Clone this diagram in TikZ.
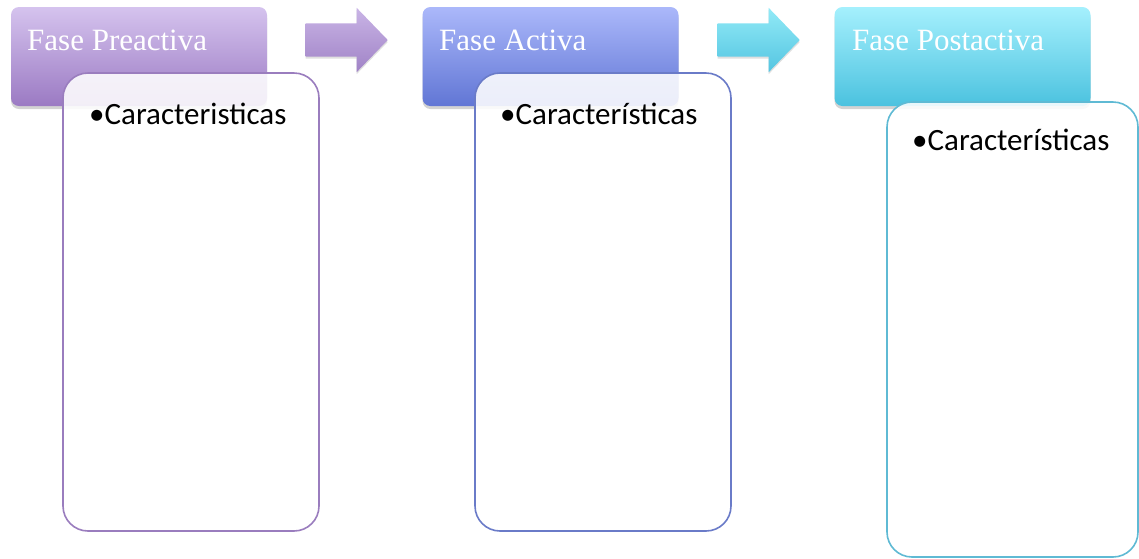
\documentclass[tikz,border=0pt]{standalone}
\usepackage{fontspec}
\setmainfont{Liberation Serif}
\newfontfamily\bodyfont{Carlito}
\usetikzlibrary{shapes.arrows,shadows}
\definecolor{pA1}{HTML}{D5C3EE}\definecolor{pA2}{HTML}{9B7AC3}
\definecolor{pB1}{HTML}{ABB8FA}\definecolor{pB2}{HTML}{6176D5}
\definecolor{pC1}{HTML}{A5F0FD}\definecolor{pC2}{HTML}{4BC2DF}
\definecolor{aA1}{HTML}{C9B4E6}\definecolor{aA2}{HTML}{A083C6}
\definecolor{aB1}{HTML}{92EAF7}\definecolor{aB2}{HTML}{54C5E1}
\definecolor{bA}{HTML}{9A7DBE}\definecolor{bB}{HTML}{6A7BC8}\definecolor{bC}{HTML}{5FBAD4}
\tikzset{
  header/.style={rectangle, rounded corners=8pt, minimum width=256pt, minimum height=99pt,
    inner sep=0pt, draw=none, drop shadow={opacity=0.35, shadow xshift=0pt, shadow yshift=-3pt}},
  body/.style={rectangle, rounded corners=25pt, line width=1.6pt, fill=white, fill opacity=0.88,
    draw opacity=1, inner sep=0pt},
  htext/.style={anchor=base west, text=white, font=\fontsize{31}{36}\selectfont, inner sep=0pt},
  btext/.style={anchor=base west, text=black, font=\bodyfont\fontsize{31}{37}\selectfont, inner sep=0pt},
  blockarrow/.style={single arrow, minimum height=82pt, single arrow head extend=15.5pt,
    inner xsep=0pt, inner ysep=16.5pt, minimum width=64pt, single arrow tip angle=92, draw=none,
    anchor=tip, drop shadow={opacity=0.25, shadow xshift=0pt, shadow yshift=-2pt}}
}
\begin{document}
\begin{tikzpicture}[x=1pt,y=-1pt]
\useasboundingbox (0,0) rectangle (1139,558);
% headers
\node[header, top color=pA1, bottom color=pA2] (h1) at (139,56.5) {};
\node[header, top color=pB1, bottom color=pB2] (h2) at (550.5,56.5) {};
\node[header, top color=pC1, bottom color=pC2] (h3) at (962.5,56.5) {};
\node[htext] (t1) at (27,50) {Fase Preactiva};
\node[htext] (t2) at (439,50) {Fase Activa};
\node[htext] (t3) at (852,50) {Fase Postactiva};
% arrows
\node[blockarrow, top color=aA1, bottom color=aA2] (a1) at (388,40) {};
\node[blockarrow, top color=aB1, bottom color=aB2] (a2) at (800,40) {};
% bodies
\node[body, draw=bA, minimum width=256pt, minimum height=458pt] (b1) at (191,302) {};
\node[body, draw=bB, minimum width=256pt, minimum height=458pt] (b2) at (603,302) {};
\node[body, draw=bC, minimum width=251pt, minimum height=455pt] (b3) at (1012.5,329.5) {};
\node[btext] (c1) at (89,124) {•Caracteristicas};
\node[btext] (c2) at (500,124) {•Características};
\node[btext] (c3) at (912,150) {•Características};
\end{tikzpicture}
\end{document}
